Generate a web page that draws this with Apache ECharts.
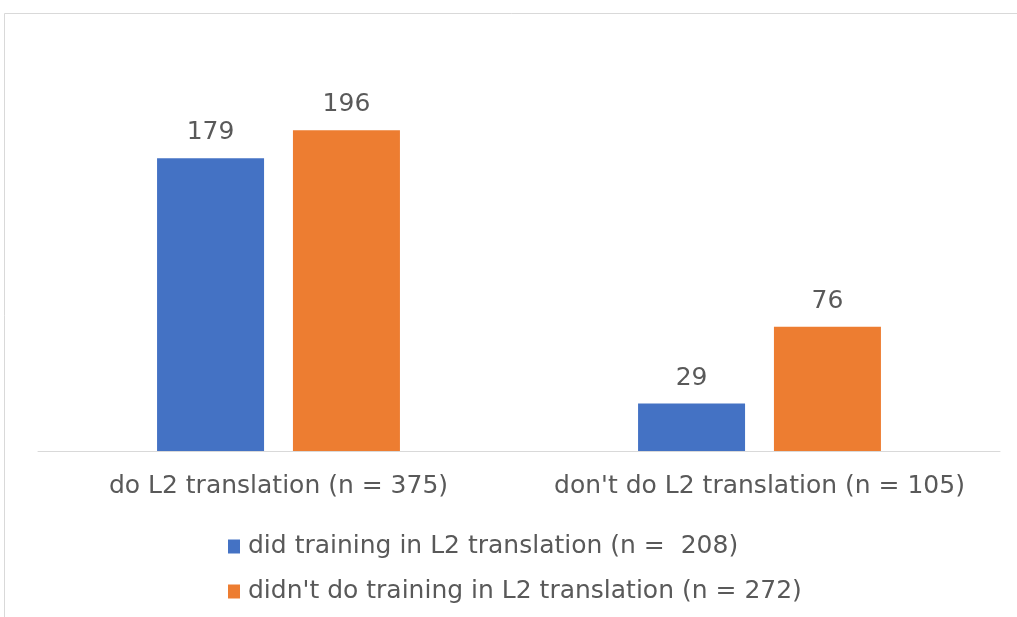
<!DOCTYPE html>
<html><head><meta charset="utf-8">
<script src="https://cdn.jsdelivr.net/npm/echarts@6/dist/echarts.min.js"></script>
<style>html,body{margin:0;padding:0;background:#fff}#c{width:1017px;height:617px}</style>
</head><body><div id="c"></div>
<script>
const categories = ["do L2 translation (n = 375)", "don't do L2 translation (n = 105)"];
const seriesNames = ["did training in L2 translation (n =  208)", "didn't do training in L2 translation (n = 272)"];
const didTraining = [179, 29];
const didntTraining = [196, 76];
const colors = ['#4472C4', '#ED7D31'];
const font = 'DejaVu Sans';
const chart = echarts.init(document.getElementById('c'));
chart.setOption({
  animation: false,
  backgroundColor: '#fff',
  graphic: [{type:'rect', shape:{x:4.5,y:13.5,width:1100,height:700}, style:{fill:'none',stroke:'#d9d9d9',lineWidth:1}}],
  grid: {left: 38, right: 17, top: 42, bottom: 617-451},
  legend: {
    orient: 'vertical', left: 228, top: 534, itemWidth: 12, itemHeight: 14, itemGap: 20, padding: 0,
    icon: 'rect',
    textStyle: {fontFamily: font, fontSize: 25, color: '#595959', padding:[0,0,0,3]},
    data: seriesNames
  },
  xAxis: {
    type: 'category', data: categories,
    axisLine: {lineStyle: {color: '#d9d9d9'}},
    axisTick: {show: false},
    axisLabel: {interval: 0, hideOverlap: false, fontFamily: font, fontSize: 25, color: '#595959', margin: 23}
  },
  yAxis: {type: 'value', min: 0, max: 250, show: false, splitLine: {show: false}},
  series: [
    {name: seriesNames[0], type: 'bar', data: didTraining, barWidth: 107, barGap: '27%',
     itemStyle: {color: colors[0]},
     label: {show: true, position: 'top', distance: 13, fontFamily: font, fontSize: 25, color: '#595959'}},
    {name: seriesNames[1], type: 'bar', data: didntTraining, barWidth: 107,
     itemStyle: {color: colors[1]},
     label: {show: true, position: 'top', distance: 13, fontFamily: font, fontSize: 25, color: '#595959'}}
  ]
});
</script></body></html>
